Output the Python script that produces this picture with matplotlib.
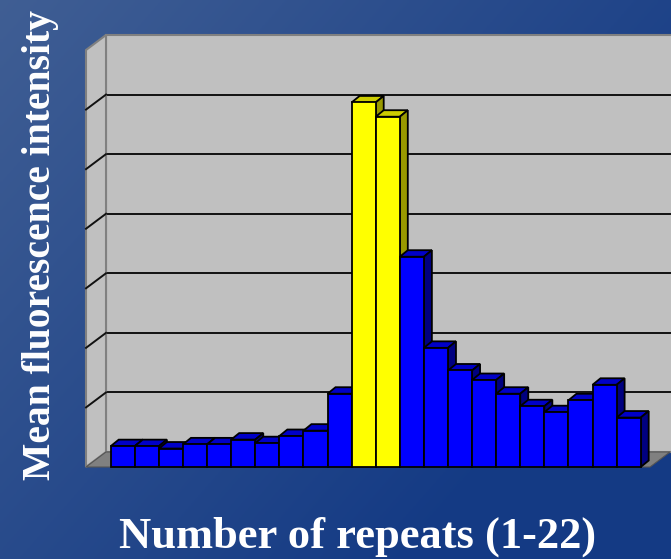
import numpy as np
import matplotlib
matplotlib.use("Agg")
import matplotlib.pyplot as plt
from matplotlib.patches import Polygon, Rectangle
from matplotlib.transforms import offset_copy, IdentityTransform

# mean fluorescence per number of repeats (arbitrary units)
repeats = list(range(1, 23))
intensity = [0.35, 0.35, 0.31, 0.38, 0.38, 0.46, 0.40, 0.52, 0.61, 1.23,
             6.12, 5.88, 3.53, 2.00, 1.62, 1.46, 1.23, 1.02, 0.92, 1.12,
             1.38, 0.83]
highlight = [11, 12]
grid_vals = [1, 2, 3, 4, 5, 6]

W, H = 671, 559
fig = plt.figure(figsize=(W / 100, H / 100), dpi=100)

# blue gradient backdrop
bg = fig.add_axes([0, 0, 1, 1], zorder=-10)
gx, gy = np.meshgrid(np.linspace(0, 1, 200), np.linspace(0, 1, 200))
t = np.clip(0.75 * gx + 0.55 * gy, 0, 1)
c0 = np.array([0.25, 0.37, 0.58])
c1 = np.array([0.08, 0.23, 0.52])
img = c0[None, None, :] * (1 - t[..., None]) + c1[None, None, :] * t[..., None]
bg.imshow(img, aspect="auto", extent=[0, 1, 0, 1], origin="upper")
bg.axis("off")

ax = fig.add_axes([86 / W, (H - 467) / H, (650 - 86) / W, 417 / H])
x0, x1 = -0.5255, 22.886
ax.set_xlim(x0, x1)
ax.set_ylim(0, 7)
ax.axis("off")

wall_dx, wall_dy = 20, 15     # depth of the walls in pixels
bar_dx, bar_dy = 8, 6.5       # depth of the bars in pixels
back = offset_copy(ax.transData, fig=fig, x=wall_dx, y=wall_dy, units="dots")
ident = IdentityTransform()

def px(x, y):
    return ax.transData.transform((x, y))

# floor
fl, fr = px(x0, 0), px(x1, 0)
floor = [fl, fr, fr + [wall_dx, wall_dy], fl + [wall_dx, wall_dy]]
ax.add_patch(Polygon(floor, closed=True, transform=ident, facecolor="#808080",
                     edgecolor="#555555", lw=0.8, clip_on=False, zorder=1))

# back wall
ax.add_patch(Rectangle((x0, 0), 30, 7, transform=back, facecolor="#c0c0c0",
                       edgecolor="#808080", lw=1.5, clip_on=False, zorder=0.5))
ax.hlines(grid_vals, x0, 30, transform=back, colors="#111111", lw=1.4,
          clip_on=False, zorder=0.8)

# left wall
lb, lt = px(x0, 0), px(x0, 7)
left = [lb, lt, lt + [wall_dx, wall_dy], lb + [wall_dx, wall_dy]]
ax.add_patch(Polygon(left, closed=True, transform=ident, facecolor="#c0c0c0",
                     edgecolor="#808080", lw=1.5, clip_on=False, zorder=0.9))
for g in grid_vals:
    p = px(x0, g)
    ax.plot([p[0], p[0] + wall_dx], [p[1], p[1] + wall_dy], color="#111111",
            lw=1.4, transform=ident, clip_on=False, zorder=0.95)

# bars with top and side faces
front_cols = ["#ffff00" if r in highlight else "#0000ff" for r in repeats]
top_cols = ["#cccc00" if r in highlight else "#0000c8" for r in repeats]
side_cols = ["#999900" if r in highlight else "#000080" for r in repeats]
bars = ax.bar(repeats, intensity, width=1.0, color=front_cols,
              edgecolor="black", lw=1.3)
d = np.array([bar_dx, bar_dy])
for i, rect in enumerate(bars):
    xl, w, h = rect.get_x(), rect.get_width(), rect.get_height()
    tl, tr, br = px(xl, h), px(xl + w, h), px(xl + w, 0)
    z = 2 + i * 0.1
    ax.add_patch(Polygon([tl, tr, tr + d, tl + d], closed=True, transform=ident,
                         facecolor=top_cols[i], edgecolor="black", lw=1.3,
                         clip_on=False, zorder=z))
    ax.add_patch(Polygon([br, tr, tr + d, br + d], closed=True, transform=ident,
                         facecolor=side_cols[i], edgecolor="black", lw=1.3,
                         clip_on=False, zorder=z))
    rect.set_zorder(z + 0.05)
    rect.set_clip_on(False)

fig.text(50 / W, 1 - 245 / H, "Mean fluorescence intensity", rotation=90,
         rotation_mode="anchor", ha="center", va="baseline", color="white",
         fontsize=28.5, fontweight="bold", family="Liberation Serif")
fig.text(358 / W, 1 - 548 / H, "Number of repeats (1-22)", ha="center",
         va="baseline", color="white", fontsize=32, fontweight="bold",
         family="Liberation Serif")

fig.savefig("out.png", dpi=100)
